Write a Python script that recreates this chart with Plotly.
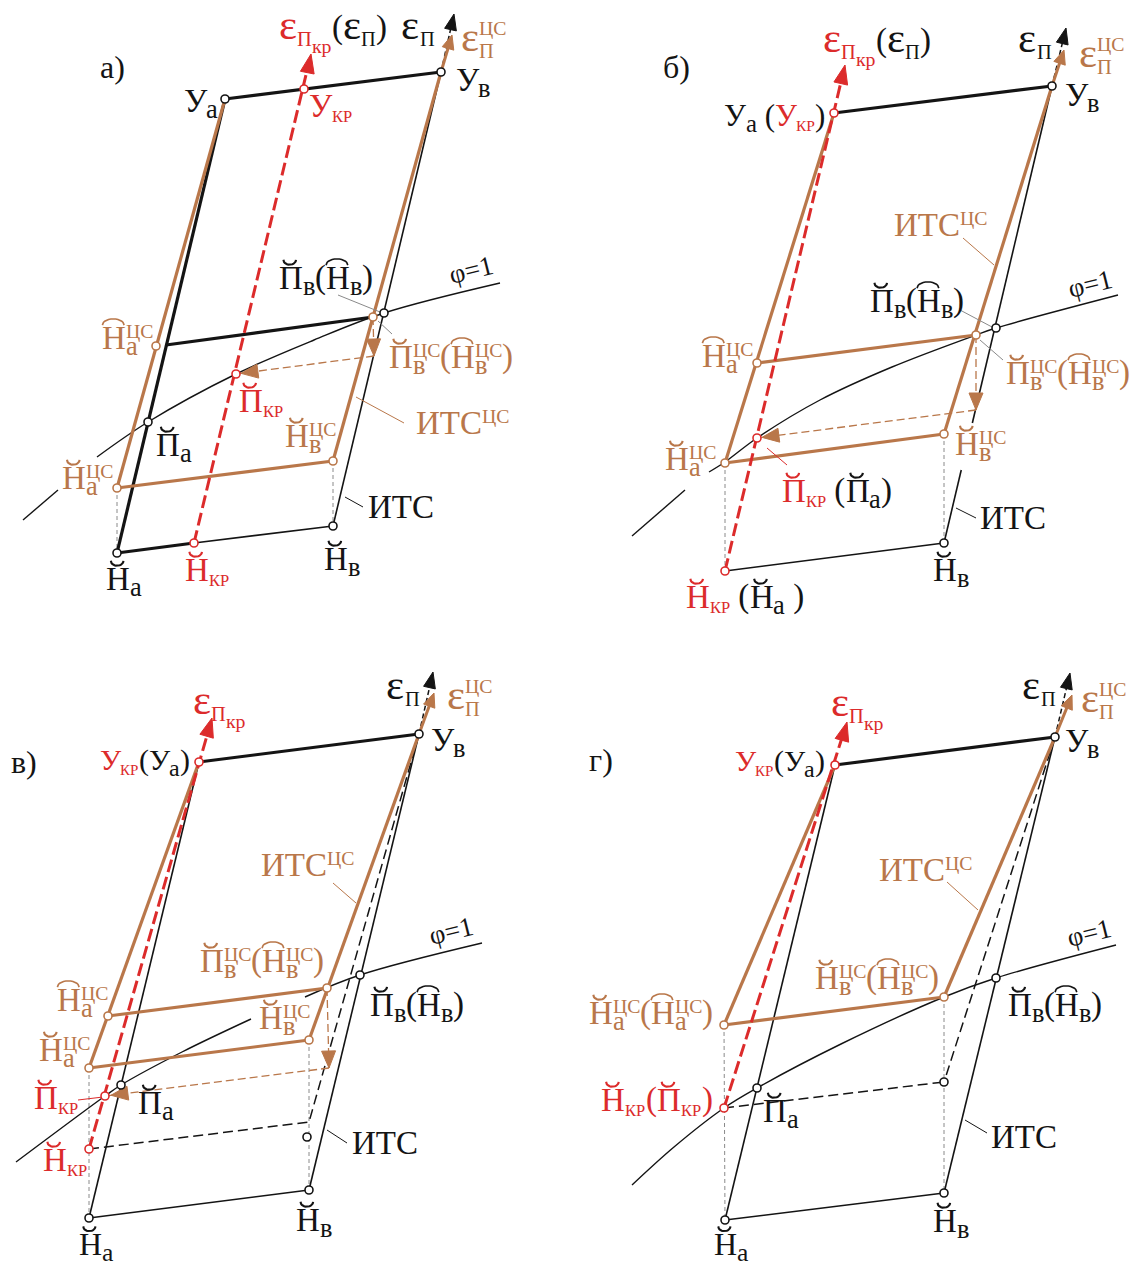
import math
import plotly.graph_objects as go

W, H = 1130, 1266
FONT = "Liberation Serif, Times New Roman, serif"
BLACK = "#141414"
BROWN = "#B9774A"
RED = "#DC2B2B"
GREY = "#8a8a8a"

# ---------------- data: diagram points (image pixel coordinates) ----------------
A = dict(Ya=(225, 99), Yv=(441, 72), Ykr=(304, 89),
         Na=(117, 553), Nkr=(194, 543), Nv=(333, 526),
         Pa=(148, 422), Pv=(384, 313), Pkr=(236, 374),
         Ha=(166, 345), Ha_cs=(156, 346),
         Na_cs=(117, 488), Nv_cs=(333, 461), Pv_cs=(373, 317),
         Drop=(374, 356), E=(454, 14), E_cs=(452, 35), E_kr=(311, 54))
A_PHI = [(23, 520), (58, 490), None, (97, 457), (148, 422), (236, 374),
         (314, 340), (384, 313), (500, 283)]

B = dict(Ya=(834, 113), Yv=(1052, 86), Na=(725, 571), Nv=(944, 543),
         Pkr=(757, 438), Pv=(996, 328),
         Ha_cs=(757, 363), Na_cs=(725, 463), Nv_cs=(944, 434), Pv_cs=(976, 335),
         Drop=(976, 410), E=(1066, 28), E_cs=(1064, 50), E_kr=(845, 65))
B_PHI = [(632, 536), (685, 490), None, (709, 472), (725, 462), (757, 438),
         (820, 400), (892, 367), (976, 335), (996, 328), (1118, 295)]

V = dict(Ya=(199, 762), Yv=(419, 734), Na=(89, 1218), Nv=(309, 1190), Nkr=(89, 1149),
         Pa=(121, 1085), Pkr=(105, 1096), Pv=(360, 975),
         Ha_cs=(108, 1016), Na_cs=(89, 1068), Nv_cs=(309, 1040), Pv_cs=(327, 988),
         Corner=(309, 1122), Mark=(307, 1137), Drop=(329, 1068),
         E=(433, 672), E_cs=(434, 693), E_kr=(212, 718))
V_PHI = [(16, 1162), (105, 1096), (121, 1085), (182, 1052), (251, 1019), None,
         (305, 997), (360, 975), (482, 943)]

G = dict(Ya=(835, 765), Yv=(1055, 737), Na=(725, 1220), Nv=(944, 1193), Nkr=(724, 1108),
         Pa=(757, 1088), Pv=(996, 978), Na_cs=(724, 1025), Nv_cs=(944, 997),
         Corner=(944, 1082), E=(1070, 673), E_cs=(1072, 695), E_kr=(847, 722))
G_PHI = [(632, 1185), (674, 1147), (724, 1108), (757, 1088), (841, 1044),
         (944, 997), (996, 978), (1116, 945)]

fig = go.Figure()

# ---------------- drawing helpers ----------------
def seg(pts, color, width, dash="solid", shape="linear"):
    fig.add_trace(go.Scatter(
        x=[p[0] if p else None for p in pts], y=[p[1] if p else None for p in pts],
        mode="lines", line=dict(color=color, width=width, dash=dash, shape=shape),
        hoverinfo="skip", showlegend=False))


def toward(p, q, d):
    dx, dy = q[0] - p[0], q[1] - p[1]
    L = (dx * dx + dy * dy) ** 0.5
    return (p[0] + dx / L * d, p[1] + dy / L * d)


def at_y(p, q, y):
    t = (y - p[1]) / (q[1] - p[1])
    return (p[0] + (q[0] - p[0]) * t, y)


def head(tip, frm, color, length=16, half=6):
    dx, dy = tip[0] - frm[0], tip[1] - frm[1]
    L = (dx * dx + dy * dy) ** 0.5
    ux, uy = dx / L, dy / L
    bx, by = tip[0] - ux * length, tip[1] - uy * length
    px, py = -uy, ux
    fig.add_trace(go.Scatter(
        x=[tip[0], bx + px * half, bx - px * half, tip[0]],
        y=[tip[1], by + py * half, by - py * half, tip[1]],
        mode="lines", fill="toself", fillcolor=color, line=dict(color=color, width=1),
        hoverinfo="skip", showlegend=False))


def dots(pts, color):
    fig.add_trace(go.Scatter(
        x=[p[0] for p in pts], y=[p[1] for p in pts], mode="markers",
        marker=dict(size=8, color="white", line=dict(color=color, width=1.6)),
        hoverinfo="skip", showlegend=False))


# ---------------- text layout (Times metrics) ----------------
WID = {'Н': 0.722, 'П': 0.722, 'У': 0.68, 'И': 0.722, 'Т': 0.611, 'С': 0.667,
       'Ц': 0.722, 'К': 0.70, 'Р': 0.556, 'а': 0.444, 'в': 0.47, 'к': 0.49,
       'р': 0.5, '(': 0.333, ')': 0.333, ' ': 0.25, 'ε': 0.43}
KIND = {'b': (1.0, 0.0), 'e': (1.3, 0.0), 's': (0.8, 0.19), 'k': (0.5, 0.16),
        'p': (0.6, -0.34), 'ep': (0.62, 0.2), 'eq': (0.6, 0.42), 'epp': (0.6, -0.5)}


def twidth(text, kind, S):
    return sum(WID.get(ch, 0.6) for ch in text) * KIND[kind][0] * S


def accent(kind, cx, cap_top, S, c):
    n = 15
    ts = [math.pi * i / (n - 1) for i in range(n)]
    if kind == 'br':
        hw, d = 0.19 * S, 0.15 * S
        y0 = cap_top - 0.07 * S
        pts = [(cx - hw * math.cos(t), y0 - d * (1 - math.sin(t))) for t in ts]
        seg(pts, c, 0.065 * S)
    else:
        hw, h = 0.33 * S, 0.19 * S
        y0 = cap_top - 0.06 * S
        pts = [(cx - hw * math.cos(t), y0 - h * math.sin(t)) for t in ts]
        seg(pts, c, 0.05 * S)


def lab(cx, cy, toks, S=33):
    total = sum(max(twidth(t, k, S) for k, t in parts) for parts, c, acc in toks)
    x = cx - total / 2
    yb = cy + 0.331 * S
    for parts, c, acc in toks:
        adv = 0
        for k, t in parts:
            f, sh = KIND[k]
            size = f * S
            yc = yb + sh * S - 0.3375 * size
            fig.add_annotation(x=x, y=yc, text=t, showarrow=False, xanchor="left",
                               yanchor="middle", borderpad=0,
                               font=dict(family=FONT, size=size, color=c))
            adv = max(adv, twidth(t, k, S))
        if acc:
            accent(acc, x + adv / 2, yb - 0.662 * S, S, c)
        x += adv


def T(text, c=BLACK):
    return [([('b', text)], c, None)]


def SUP(text, c=BLACK):
    return [([('p', text)], c, None)]


def L(letter, acc=None, sub=None, sup=None, c=BLACK):
    toks = [([('b', letter)], c, acc)]
    parts = []
    if sub:
        parts.append(('k' if sub.isupper() else 's', sub))
    if sup:
        parts.append(('p', sup))
    if parts:
        toks.append((parts, c, None))
    return toks


def EPS(c, sub="П", sub2=None, sup=None):
    toks = [([('e', 'ε')], c, None)]
    parts = [('ep', sub)]
    if sup:
        parts.append(('epp', sup))
    toks.append((parts, c, None))
    if sub2:
        toks.append(([('eq', sub2)], c, None))
    return toks


def plain(x, y, s, size=32, angle=0):
    fig.add_annotation(x=x, y=y, text=s, showarrow=False, xanchor="center", yanchor="middle",
                       textangle=angle, font=dict(family=FONT, size=size, color=BLACK))


DASH_GREY = "4px,3px"
DASH_RED = "13px,5px"
DASH_BLK = "10px,5px"
DASH_BR = "8px,4px"


def axes_top(P, kr_from, kr_base):
    seg([kr_from, toward(P['E_kr'], kr_from, 10)], RED, 3, DASH_RED)
    head(P['E_kr'], kr_base, RED, 19, 7)
    seg([P['Yv'], toward(P['E'], P['Yv'], 8)], BLACK, 1.5, "5px,3px")
    head(P['E'], P['Yv'], BLACK, 16, 6)
    seg([P['Yv'], toward(P['E_cs'], P['Yv'], 8)], BROWN, 3)
    head(P['E_cs'], P['Yv'], BROWN, 14, 6)


# ================= panel а) =================
P = A
seg([P['Na_cs'], P['Na']], GREY, 1, DASH_GREY)
seg([P['Nv_cs'], P['Nv']], GREY, 1, DASH_GREY)
seg(A_PHI, BLACK, 1.4, shape="spline")
seg([P['Yv'], P['Nv']], BLACK, 1.6)
seg([P['Nkr'], P['Nv']], BLACK, 1.6)
seg([P['Na'], P['Nkr']], BLACK, 3.2)
seg([P['Ya'], P['Na']], BLACK, 3.2)
seg([P['Ya'], P['Yv']], BLACK, 3.2)
seg([P['Ha'], P['Pv_cs']], BLACK, 3.2)
seg([P['Ya'], P['Na_cs']], BROWN, 3.2)
seg([P['Yv'], P['Nv_cs']], BROWN, 3.2)
seg([P['Na_cs'], P['Nv_cs']], BROWN, 3.2)
seg([P['Pv_cs'], P['Drop']], BROWN, 1.3, DASH_BR)
head(P['Drop'], P['Pv_cs'], BROWN, 17, 7)
seg([P['Drop'], P['Pkr']], BROWN, 1.3, DASH_BR)
head(toward(P['Pkr'], P['Drop'], 5), P['Drop'], BROWN, 17, 7)
axes_top(P, P['Nkr'], P['Ykr'])
seg([(338, 295), (380, 312)], GREY, 1)
seg([(378, 321), (392, 334)], GREY, 1)
seg([(356, 397), (404, 423)], BROWN, 1)
seg([(345, 497), (363, 507)], BLACK, 1)
dots([P['Ya'], P['Yv'], P['Pa'], P['Pv'], P['Na'], P['Nv']], BLACK)
dots([P['Ykr'], P['Pkr'], P['Nkr']], RED)
dots([P['Ha_cs'], P['Na_cs'], P['Nv_cs'], P['Pv_cs']], BROWN)

plain(112, 67, "а)")
lab(200, 101, L("У", sub="а"))
lab(472, 80, L("У", sub="в"))
lab(330, 106, L("У", sub="КР", c=RED))
lab(332, 28, EPS(RED, sub2="кр") + T("(") + EPS(BLACK) + T(")"))
lab(417, 28, EPS(BLACK))
lab(483, 40, EPS(BROWN, sup="ЦС"))
lab(325, 278, L("П", "br", sub="в") + T("(") + L("Н", "arc", sub="в") + T(")"))
plain(471, 270, "φ=1", size=27, angle=-14)
lab(127, 338, L("Н", "arc", sub="а", sup="ЦС", c=BROWN))
lab(450, 357, L("П", "br", sub="в", sup="ЦС", c=BROWN) + T("(", BROWN)
    + L("Н", "arc", sub="в", sup="ЦС", c=BROWN) + T(")", BROWN))
lab(260, 401, L("П", "br", sub="КР", c=RED))
lab(173, 445, L("П", "br", sub="а"))
lab(310, 436, L("Н", "br", sub="в", sup="ЦС", c=BROWN))
lab(462, 423, T("ИТС", BROWN) + SUP("ЦС", BROWN))
lab(87, 478, L("Н", "br", sub="а", sup="ЦС", c=BROWN))
lab(400, 507, T("ИТС"))
lab(123, 579, L("Н", "br", sub="а"))
lab(206, 570, L("Н", "br", sub="КР", c=RED))
lab(341, 559, L("Н", "br", sub="в"))

# ================= panel б) =================
P = B
seg([P['Na_cs'], P['Na']], GREY, 1, DASH_GREY)
seg([P['Nv_cs'], P['Nv']], GREY, 1, DASH_GREY)
seg(B_PHI, BLACK, 1.4, shape="spline")
seg([P['Yv'], at_y(P['Yv'], P['Nv'], 423)], BLACK, 1.6)
seg([at_y(P['Yv'], P['Nv'], 470), P['Nv']], BLACK, 1.6)
seg([P['Na'], P['Nv']], BLACK, 1.6)
seg([P['Ya'], P['Yv']], BLACK, 3.2)
seg([P['Ya'], P['Na_cs']], BROWN, 3.2)
seg([P['Yv'], P['Nv_cs']], BROWN, 3.2)
seg([P['Ha_cs'], P['Pv_cs']], BROWN, 3.2)
seg([P['Na_cs'], P['Nv_cs']], BROWN, 3.2)
seg([P['Pv_cs'], P['Drop']], BROWN, 1.3, DASH_BR)
head(P['Drop'], P['Pv_cs'], BROWN, 17, 7)
seg([P['Drop'], P['Pkr']], BROWN, 1.3, DASH_BR)
head(toward(P['Pkr'], P['Drop'], 5), P['Drop'], BROWN, 17, 7)
axes_top(P, P['Na'], P['Ya'])
seg([(960, 310), (992, 327)], GREY, 1)
seg([(980, 340), (1003, 360)], GREY, 1)
seg([(963, 238), (994, 265)], BROWN, 1)
seg([(956, 508), (976, 518)], BLACK, 1)
seg([(767, 448), (787, 465)], RED, 1)
dots([P['Yv'], P['Pv'], P['Nv']], BLACK)
dots([P['Ya'], P['Pkr'], P['Na']], RED)
dots([P['Ha_cs'], P['Na_cs'], P['Nv_cs'], P['Pv_cs']], BROWN)

plain(676, 67, "б)")
lab(876, 41, EPS(RED, sub2="кр") + T("(") + EPS(BLACK) + T(")"))
lab(774, 116, L("У", sub="а") + T(" (") + L("У", sub="КР", c=RED) + T(")"), S=31)
lab(1081, 95, L("У", sub="в"))
lab(1034, 41, EPS(BLACK))
lab(1101, 56, EPS(BROWN, sup="ЦС"))
lab(940, 225, T("ИТС", BROWN) + SUP("ЦС", BROWN))
lab(916, 301, L("П", "br", sub="в") + T("(") + L("Н", "arc", sub="в") + T(")"))
plain(1090, 284, "φ=1", size=27, angle=-14)
lab(727, 356, L("Н", "arc", sub="а", sup="ЦС", c=BROWN))
lab(1067, 373, L("П", "br", sub="в", sup="ЦС", c=BROWN) + T("(", BROWN)
    + L("Н", "arc", sub="в", sup="ЦС", c=BROWN) + T(")", BROWN))
lab(980, 444, L("Н", "br", sub="в", sup="ЦС", c=BROWN))
lab(690, 459, L("Н", "br", sub="а", sup="ЦС", c=BROWN))
lab(836, 491, L("П", "br", sub="КР", c=RED) + T(" (") + L("П", "br", sub="а") + T(")"))
lab(1012, 518, T("ИТС"))
lab(950, 570, L("Н", "br", sub="в"))
lab(744, 597, L("Н", "br", sub="КР", c=RED) + T(" (") + L("Н", "br", sub="а") + T(" )"))

# ================= panel в) =================
P = V
seg([P['Na_cs'], P['Na']], GREY, 1, DASH_GREY)
seg([P['Nv_cs'], P['Nv']], GREY, 1, DASH_GREY)
seg(V_PHI, BLACK, 1.4, shape="spline")
seg([P['Ya'], P['Na']], BLACK, 1.6)
seg([P['Yv'], P['Nv']], BLACK, 1.6)
seg([P['Na'], P['Nv']], BLACK, 1.6)
seg([P['Ya'], P['Yv']], BLACK, 3.2)
seg([P['Yv'], P['Corner']], BLACK, 1.5, DASH_BLK)
seg([P['Nkr'], P['Corner']], BLACK, 1.5, DASH_BLK)
seg([P['Ya'], P['Na_cs']], BROWN, 3.2)
seg([P['Yv'], P['Nv_cs']], BROWN, 3.2)
seg([P['Ha_cs'], P['Pv_cs']], BROWN, 3.2)
seg([P['Na_cs'], P['Nv_cs']], BROWN, 3.2)
seg([P['Pv_cs'], P['Drop']], BROWN, 1.3, DASH_BR)
head(P['Drop'], P['Pv_cs'], BROWN, 17, 7)
seg([P['Drop'], P['Pkr']], BROWN, 1.3, DASH_BR)
head(toward(P['Pkr'], P['Drop'], 6), P['Drop'], BROWN, 17, 7)
axes_top(P, P['Nkr'], P['Ya'])
seg([(333, 883), (356, 903)], BROWN, 1)
seg([(327, 1130), (347, 1143)], BLACK, 1)
seg([(78, 1100), (103, 1097)], RED, 1)
dots([P['Yv'], P['Pa'], P['Pv'], P['Na'], P['Nv'], P['Mark']], BLACK)
dots([P['Ya'], P['Pkr'], P['Nkr']], RED)
dots([P['Ha_cs'], P['Na_cs'], P['Nv_cs'], P['Pv_cs']], BROWN)

plain(24, 762, "в)")
lab(218, 703, EPS(RED, sub2="кр"))
lab(144, 760, L("У", sub="КР", c=RED) + T("(") + L("У", sub="а") + T(")"), S=30)
lab(447, 740, L("У", sub="в"))
lab(402, 688, EPS(BLACK))
lab(469, 698, EPS(BROWN, sup="ЦС"))
lab(307, 865, T("ИТС", BROWN) + SUP("ЦС", BROWN))
plain(451, 931, "φ=1", size=27, angle=-14)
lab(261, 961, L("П", "br", sub="в", sup="ЦС", c=BROWN) + T("(", BROWN)
    + L("Н", "arc", sub="в", sup="ЦС", c=BROWN) + T(")", BROWN))
lab(416, 1005, L("П", "br", sub="в") + T("(") + L("Н", "arc", sub="в") + T(")"))
lab(82, 1000, L("Н", "arc", sub="а", sup="ЦС", c=BROWN))
lab(284, 1018, L("Н", "br", sub="в", sup="ЦС", c=BROWN))
lab(64, 1050, L("Н", "br", sub="а", sup="ЦС", c=BROWN))
lab(55, 1098, L("П", "br", sub="КР", c=RED))
lab(155, 1103, L("П", "br", sub="а"))
lab(64, 1160, L("Н", "br", sub="КР", c=RED))
lab(384, 1143, T("ИТС"))
lab(313, 1220, L("Н", "br", sub="в"))
lab(95, 1244, L("Н", "br", sub="а"), S=32)

# ================= panel г) =================
P = G
seg([P['Na_cs'], P['Na']], GREY, 1, DASH_GREY)
seg([P['Nv_cs'], P['Nv']], GREY, 1, DASH_GREY)
seg(G_PHI, BLACK, 1.4, shape="spline")
seg([P['Ya'], P['Na']], BLACK, 1.6)
seg([P['Yv'], P['Nv']], BLACK, 1.6)
seg([P['Na'], P['Nv']], BLACK, 1.6)
seg([P['Ya'], P['Yv']], BLACK, 3.2)
seg([P['Yv'], P['Corner']], BLACK, 1.5, DASH_BLK)
seg([P['Nkr'], P['Corner']], BLACK, 1.5, DASH_BLK)
seg([P['Ya'], P['Na_cs']], BROWN, 3.2)
seg([P['Yv'], P['Nv_cs']], BROWN, 3.2)
seg([P['Na_cs'], P['Nv_cs']], BROWN, 3.2)
axes_top(P, P['Nkr'], P['Ya'])
seg([(947, 882), (978, 910)], BROWN, 1)
seg([(965, 1120), (987, 1133)], BLACK, 1)
dots([P['Yv'], P['Pa'], P['Pv'], P['Na'], P['Nv'], P['Corner']], BLACK)
dots([P['Ya'], P['Nkr']], RED)
dots([P['Na_cs'], P['Nv_cs']], BROWN)

plain(601, 760, "г)")
lab(856, 705, EPS(RED, sub2="кр"))
lab(779, 761, L("У", sub="КР", c=RED) + T("(") + L("У", sub="а") + T(")"), S=30)
lab(1081, 741, L("У", sub="в"))
lab(1038, 688, EPS(BLACK))
lab(1103, 701, EPS(BROWN, sup="ЦС"))
lab(925, 870, T("ИТС", BROWN) + SUP("ЦС", BROWN))
plain(1089, 933, "φ=1", size=27, angle=-14)
lab(876, 978, L("Н", "br", sub="в", sup="ЦС", c=BROWN) + T("(", BROWN)
    + L("Н", "arc", sub="в", sup="ЦС", c=BROWN) + T(")", BROWN))
lab(1054, 1005, L("П", "br", sub="в") + T("(") + L("Н", "arc", sub="в") + T(")"))
lab(650, 1013, L("Н", "br", sub="а", sup="ЦС", c=BROWN) + T("(", BROWN)
    + L("Н", "arc", sub="а", sup="ЦС", c=BROWN) + T(")", BROWN))
lab(656, 1100, L("Н", "br", sub="КР", c=RED) + T("(", RED) + L("П", "br", sub="КР", c=RED)
    + T(")", RED))
lab(780, 1111, L("П", "br", sub="а"))
lab(1023, 1137, T("ИТС"))
lab(950, 1221, L("Н", "br", sub="в"))
lab(730, 1244, L("Н", "br", sub="а"), S=32)

fig.update_layout(
    width=W, height=H, margin=dict(l=0, r=0, t=0, b=0),
    paper_bgcolor="white", plot_bgcolor="white", showlegend=False,
    xaxis=dict(range=[0, W], visible=False, fixedrange=True),
    yaxis=dict(range=[H, 0], visible=False, fixedrange=True),
)
fig.write_html("out.html", config={"displayModeBar": False, "staticPlot": True},
               post_script="document.body.style.margin='0px';")
